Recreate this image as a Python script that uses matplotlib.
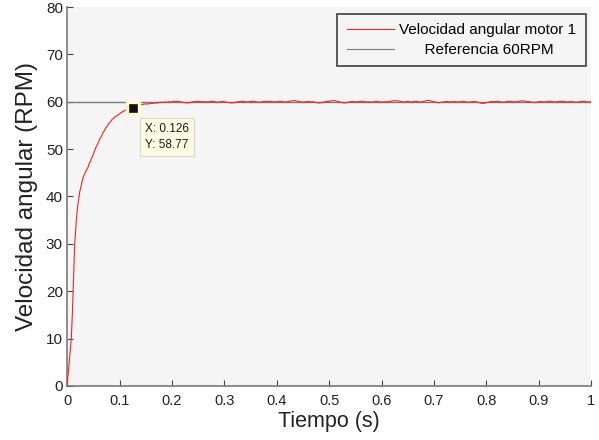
import numpy as np
import matplotlib
matplotlib.use("Agg")
import matplotlib.pyplot as plt

plt.rcParams['font.family'] = ['Liberation Sans', 'DejaVu Sans']

# --- data ---
t_rise = [0.0, 0.002, 0.004, 0.006, 0.008, 0.010, 0.0115, 0.013, 0.0145, 0.016, 0.017,
          0.018, 0.019, 0.020, 0.021, 0.0225, 0.024, 0.0255, 0.027, 0.0285, 0.030,
          0.032, 0.034, 0.036, 0.038, 0.040, 0.042, 0.044, 0.046, 0.048, 0.050,
          0.053, 0.056, 0.059, 0.062, 0.065, 0.068, 0.071, 0.074, 0.077, 0.080,
          0.083, 0.086, 0.089, 0.092, 0.095, 0.098, 0.101, 0.104, 0.107, 0.110,
          0.113, 0.116, 0.119, 0.122, 0.126, 0.130, 0.134, 0.138, 0.142, 0.146,
          0.150, 0.154, 0.158, 0.162, 0.166, 0.170, 0.174, 0.178, 0.182, 0.186,
          0.190, 0.194, 0.198, 0.202, 0.206]
v_rise = [0.0, 2.5, 5.0, 7.5, 10.0, 15.0, 20.0, 25.0, 30.0, 32.5, 34.0,
          35.5, 36.7, 37.8, 38.6, 39.8, 40.9, 41.6, 42.4, 43.0, 43.8,
          44.4, 44.9, 45.3, 45.8, 46.2, 46.9, 47.3, 47.9, 48.4, 48.9,
          49.8, 50.6, 51.2, 52.1, 52.6, 53.4, 53.9, 54.5, 54.9, 55.5,
          55.8, 56.3, 56.5, 56.9, 57.0, 57.3, 57.5, 57.8, 57.9, 58.2,
          58.2, 58.5, 58.4, 58.6, 58.77, 59.1, 59.3, 59.4, 59.35, 59.5,
          59.55, 59.5, 59.65, 59.6, 59.75, 59.7, 59.8, 59.9, 59.85, 59.95,
          59.9, 60.0, 59.95, 60.05, 60.1]
v_steady = [60.1, 60.0, 59.9, 59.8, 59.75, 59.85, 60.0, 60.05, 60.1, 60.0, 60.05, 59.95, 60.0, 60.1, 60.05, 59.9, 59.95, 60.05, 60.0,
            59.9, 59.8, 59.75, 59.85, 60.0, 60.05, 60.1, 60.0, 59.95, 60.05, 60.1, 60.0, 59.9, 59.95, 60.05, 60.1, 60.0, 60.05, 59.95, 60.0,
            60.1, 60.05, 59.95, 60.0, 60.1, 60.2, 60.25, 60.1, 60.0, 59.9, 60.0, 60.05, 59.95, 60.0, 59.85, 59.75, 59.8, 59.95, 60.05, 60.1,
            60.2, 60.25, 60.1, 59.95, 59.8, 59.75, 59.85, 60.0, 60.05, 59.95, 60.0, 60.1, 60.05, 59.95, 60.0, 59.9, 60.0, 60.05, 60.0, 59.95,
            60.0, 59.95, 60.05, 60.15, 60.25, 60.2, 60.1, 59.95, 60.0, 60.05, 59.95, 60.0, 60.1, 60.0, 59.95, 60.05, 60.2, 60.3, 60.15, 60.0,
            59.85, 59.8, 59.9, 60.0, 60.05, 59.95, 60.0, 60.05, 59.95, 60.0, 60.1, 60.0, 59.9, 59.95, 60.05, 60.0, 59.85, 59.7, 59.65, 59.8,
            59.95, 60.05, 60.0, 60.1, 60.0, 59.9, 59.95, 60.05, 60.1, 60.0, 59.95, 60.05, 60.15, 60.2, 60.1, 60.0, 59.95, 59.85, 59.9, 60.0,
            60.05, 59.95, 60.0, 60.1, 60.05, 59.95, 60.0, 60.05, 60.1, 60.0, 59.95, 60.05, 60.0, 59.9, 59.95, 60.05, 60.1, 60.0, 59.95, 60.0]
t_steady = np.round(0.21 + 0.005 * np.arange(len(v_steady)), 3)

ref_t = [0, 1]
ref_v = [60, 60]
tip_x, tip_y = 0.126, 58.77

t = np.concatenate([t_rise, t_steady])
v = np.concatenate([v_rise, v_steady])

# --- figure ---
fig = plt.figure(figsize=(5.99, 4.40), dpi=100)
ax = fig.add_axes([0.112, 0.123, 0.875, 0.861])
ax.set_facecolor('#f5f5f5')

ax.plot(ref_t, ref_v, color='#7a7a7a', lw=1.0, label='Referencia 60RPM', zorder=2)
ax.plot(t, v, color='#ff2020', lw=0.8, label='Velocidad angular motor 1', zorder=3)

# data tip
ax.plot([tip_x], [tip_y], marker='s', ms=8.5, color='#111111', mec='#fffbd0', mew=2.4, zorder=5)
ax.annotate(f"X: {tip_x}\nY: {tip_y}", xy=(tip_x, tip_y), xytext=(12, -15),
            textcoords='offset pixels', ha='left', va='top', fontsize=8.5, color='#1a1a1a',
            linespacing=1.5,
            bbox=dict(boxstyle='square,pad=0.4', fc='#fbfbe4', ec='#d8d8c8', lw=0.8), zorder=6)

ax.set_xlim(0, 1)
ax.set_ylim(0, 80)
ax.set_xticks(np.arange(0, 1.01, 0.1))
ax.set_xticklabels(['0', '0.1', '0.2', '0.3', '0.4', '0.5', '0.6', '0.7', '0.8', '0.9', '1'])
ax.set_yticks(range(0, 81, 10))

for s in ['top', 'right']:
    ax.spines[s].set_visible(False)
for s in ['left', 'bottom']:
    ax.spines[s].set_color('#7a7a7a')
    ax.spines[s].set_linewidth(1.2)
ax.tick_params(direction='in', length=4, width=0.8, color='#444444',
               labelcolor='#222222')
ax.tick_params(axis='x', labelsize=10.5, pad=6)
ax.tick_params(axis='y', labelsize=11, pad=3)

ax.set_xlabel('Tiempo (s)', fontsize=15.5, color='#222222', labelpad=2)
ax.set_ylabel('Velocidad angular (RPM)', fontsize=17.5, color='#222222', labelpad=6)

h, l = ax.get_legend_handles_labels()
leg = ax.legend([h[1], h[0]], ['Velocidad angular motor 1', '      Referencia 60RPM'],
                loc='upper right', bbox_to_anchor=(0.995, 0.99), fontsize=11,
                frameon=True, fancybox=False, handlelength=3.1, handletextpad=0.35,
                borderpad=0.6, labelspacing=0.4, borderaxespad=0.2)
leg.get_frame().set_edgecolor('#111111')
leg.get_frame().set_facecolor('#f5f5f5')
leg.get_frame().set_linewidth(1.2)
for line in leg.get_lines():
    line.set_linewidth(0.8)

fig.savefig('out.png', dpi=100)
